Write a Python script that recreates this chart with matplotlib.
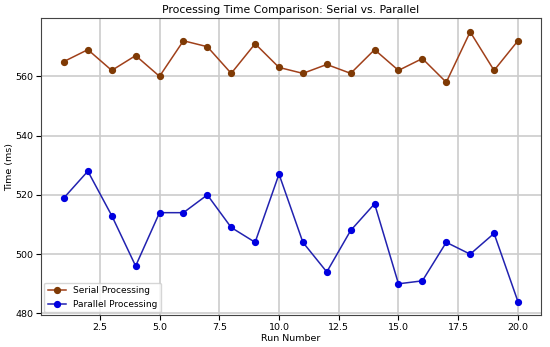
import numpy as np
import matplotlib
matplotlib.use('Agg')
import matplotlib.pyplot as plt

runs = list(range(1, 21))
serial_ms = [565, 569, 562, 567, 560, 572, 570, 561, 571, 563,
             561, 564, 561, 569, 562, 566, 558, 575, 562, 572]
parallel_ms = [519, 528, 513, 496, 514, 514, 520, 509, 504, 527,
               504, 494, 508, 517, 490, 491, 504, 500, 507, 484]

plt.rcParams['font.size'] = 6.8

fig, ax = plt.subplots(figsize=(5.5, 3.47), dpi=100)
ax.plot(runs, serial_ms, marker='o', color='#a0401a', markerfacecolor='#7f3a05',
        markeredgecolor='#7f3a05', markersize=4.2, linewidth=1.1, label='Serial Processing')
ax.plot(runs, parallel_ms, marker='o', color='#2222b0', markerfacecolor='#0000e0',
        markeredgecolor='#0000e0', markersize=4.2, linewidth=1.1, label='Parallel Processing')
ax.set_title('Processing Time Comparison: Serial vs. Parallel', fontsize=7.8, pad=4)
ax.set_xlabel('Run Number', labelpad=2)
ax.set_ylabel('Time (ms)', labelpad=1)
ax.grid(True, color='#cccccc', linewidth=1.2)
for s in ax.spines.values():
    s.set_color('#444444')
ax.tick_params(pad=2)
ax.legend(loc='lower left', fontsize=6.5, borderaxespad=0.3)
fig.subplots_adjust(left=0.075, right=0.983, top=0.947, bottom=0.092)
plt.savefig('out.png')
